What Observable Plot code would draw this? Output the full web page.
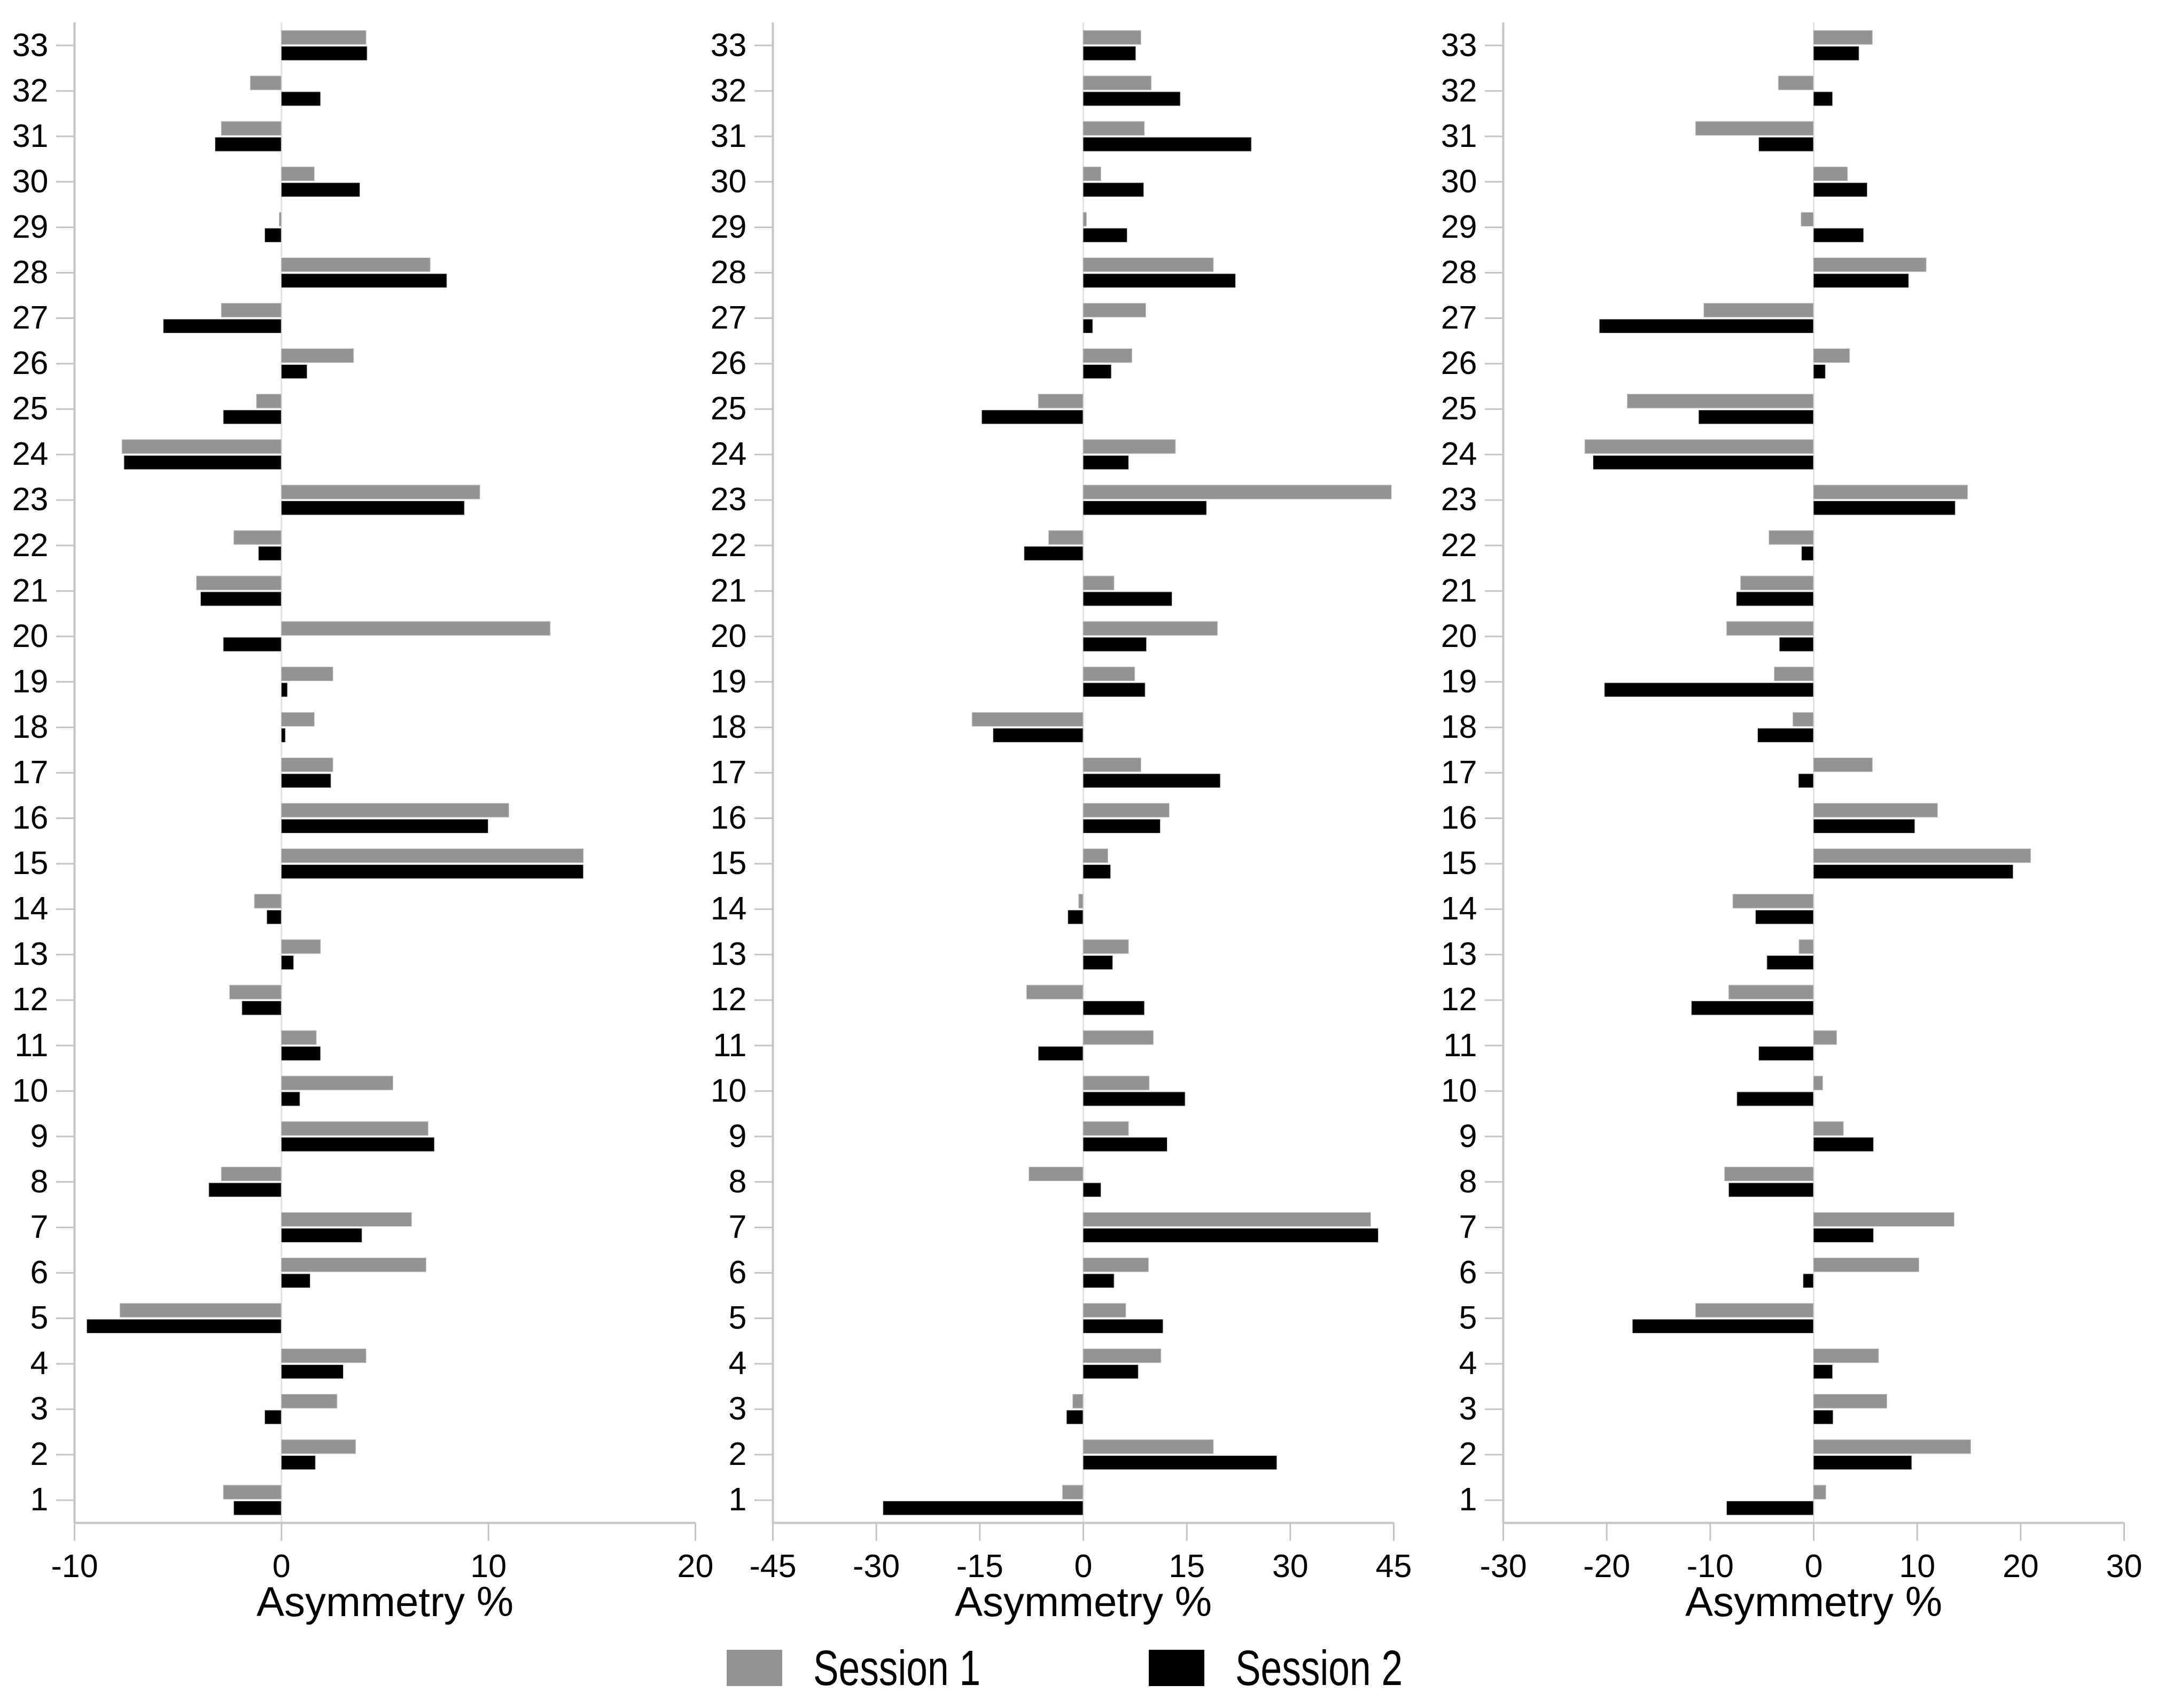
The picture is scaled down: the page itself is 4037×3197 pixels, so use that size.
<!DOCTYPE html>
<html>
<head>
<meta charset="utf-8">
<script src="https://cdn.jsdelivr.net/npm/d3@7"></script>
<script src="https://cdn.jsdelivr.net/npm/@observablehq/plot@0.6"></script>
<style>
  html, body { margin: 0; padding: 0; background: #fff; }
  #wrap { position: relative; width: 4037px; height: 3197px; background: #fff; font-family: 'Liberation Sans', Arial, sans-serif; }
  .panel { position: absolute; top: 0; }
  .legend { position: absolute; top: 3088px; height: 68px; display: flex; align-items: center; }
  .sw { width: 104px; height: 68px; }
  .lt { font-size: 92px; line-height: 68px; transform: scaleX(0.775); transform-origin: left center; white-space: nowrap; margin-left: 58px; }
</style>
</head>
<body>
<div id="wrap"></div>
<script>
// Participant / item categories (y axis)
const categories = d3.range(1, 34);

// Panel 1 (x: -10..20)
const p1Session1 = [-2.8, 3.6, 2.7, 4.1, -7.8, 7.0, 6.3, -2.9, 7.1, 5.4, 1.7, -2.5, 1.9, -1.3, 14.6, 11.0, 2.5, 1.6, 2.5, 13.0, -4.1, -2.3, 9.6, -7.7, -1.2, 3.5, -2.9, 7.2, -0.1, 1.6, -2.9, -1.5, 4.1];
const p1Session2 = [-2.3, 1.65, -0.8, 3.0, -9.4, 1.4, 3.9, -3.5, 7.4, 0.9, 1.9, -1.9, 0.6, -0.7, 14.6, 10.0, 2.4, 0.2, 0.3, -2.8, -3.9, -1.1, 8.85, -7.6, -2.8, 1.25, -5.7, 8.0, -0.8, 3.8, -3.2, 1.9, 4.15];

// Panel 2 (x: -45..45)
const p2Session1 = [-3.0, 18.9, -1.5, 11.3, 6.2, 9.5, 41.7, -7.85, 6.6, 9.6, 10.2, -8.2, 6.6, -0.64, 3.6, 12.5, 8.4, -16.1, 7.5, 19.5, 4.5, -5.0, 44.7, 13.4, -6.5, 7.1, 9.1, 18.9, 0.5, 2.6, 8.9, 9.9, 8.4];
const p2Session2 = [-29.0, 28.1, -2.4, 8.0, 11.6, 4.5, 42.8, 2.6, 12.2, 14.8, -6.5, 8.9, 4.3, -2.2, 4.0, 11.2, 19.9, -13.05, 9.0, 9.2, 12.9, -8.55, 17.9, 6.6, -14.7, 4.1, 1.4, 22.1, 6.4, 8.8, 24.4, 14.1, 7.65];

// Panel 3 (x: -30..30)
const p3Session1 = [1.2, 15.2, 7.1, 6.3, -11.4, 10.2, 13.6, -8.6, 2.9, 0.9, 2.25, -8.2, -1.4, -7.8, 21.0, 12.0, 5.7, -2.0, -3.8, -8.4, -7.05, -4.3, 14.9, -22.1, -18.0, 3.5, -10.6, 10.9, -1.2, 3.3, -11.4, -3.4, 5.7];
const p3Session2 = [-8.4, 9.5, 1.9, 1.85, -17.5, -1.0, 5.8, -8.2, 5.8, -7.4, -5.3, -11.8, -4.5, -5.6, 19.3, 9.8, -1.45, -5.4, -20.2, -3.3, -7.45, -1.15, 13.7, -21.3, -11.1, 1.15, -20.7, 9.2, 4.85, 5.2, -5.3, 1.85, 4.4];

// Axis ticks
const p1Ticks = [-10, 0, 10, 20];
const p2Ticks = [-45, -30, -15, 0, 15, 30, 45];
const p3Ticks = [-30, -20, -10, 0, 10, 20, 30];

const seriesNames = ["Session 1", "Session 2"];
const seriesColors = ["#939393", "#000000"];
const axisLabel = "Asymmetry %";

const panels = [
  {s1: p1Session1, s2: p1Session2, ticks: p1Ticks, left: 0},
  {s1: p2Session1, s2: p2Session2, ticks: p2Ticks, left: 1307},
  {s1: p3Session1, s2: p3Session2, ticks: p3Ticks, left: 2674}
];

const axisGray = "#c4c4c4";
const wrap = document.getElementById("wrap");

for (const p of panels) {
  const rows = [];
  categories.forEach((c, i) => {
    rows.push({cat: c, series: seriesNames[0], value: p.s1[i]});
    rows.push({cat: c, series: seriesNames[1], value: p.s2[i]});
  });
  const xmin = p.ticks[0], xmax = p.ticks[p.ticks.length - 1];
  const chart = Plot.plot({
    width: 1331,
    height: 3080,
    marginLeft: 139,
    marginRight: 30,
    marginTop: 42,
    marginBottom: 230,
    style: {fontFamily: "'Liberation Sans', Arial, sans-serif", background: "transparent", overflow: "visible"},
    x: {domain: [xmin, xmax]},
    y: {domain: [0.5, categories.length + 0.5]},
    color: {domain: seriesNames, range: seriesColors},
    marks: [
      Plot.ruleX([0], {stroke: "#e2e2e2", strokeWidth: 3}),
      Plot.rect(rows, {
        x1: () => 0,
        x2: "value",
        y1: d => d.series === seriesNames[0] ? d.cat + 0.015 : d.cat - 0.335,
        y2: d => d.series === seriesNames[0] ? d.cat + 0.325 : d.cat - 0.025,
        fill: "series",
        stroke: "#cfcfcf",
        strokeWidth: 1
      }),
      Plot.ruleX([xmin], {stroke: axisGray, strokeWidth: 4}),
      Plot.ruleY([0.5], {stroke: axisGray, strokeWidth: 4}),
      Plot.axisY({ticks: categories, tickSize: 34, tickPadding: 15, fontSize: 61, stroke: axisGray, strokeWidth: 3, tickFormat: d => String(d), label: null}),
      Plot.axisX({ticks: p.ticks, tickSize: 34, tickPadding: 24, fontSize: 61, stroke: axisGray, strokeWidth: 3, tickFormat: d => String(d), label: null}),
      Plot.text([axisLabel], {frameAnchor: "bottom", dy: 174, fontSize: 78, fill: "black", text: d => d})
    ]
  });
  chart.classList.add("panel");
  chart.style.left = p.left + "px";
  wrap.appendChild(chart);
}

// Legend
const legendPos = [1360, 2150];
seriesNames.forEach((name, i) => {
  const item = document.createElement("div");
  item.className = "legend";
  item.style.left = legendPos[i] + "px";
  const sw = document.createElement("div");
  sw.className = "sw";
  sw.style.background = seriesColors[i];
  const t = document.createElement("span");
  t.className = "lt";
  t.textContent = name;
  item.appendChild(sw);
  item.appendChild(t);
  wrap.appendChild(item);
});
</script>
</body>
</html>
